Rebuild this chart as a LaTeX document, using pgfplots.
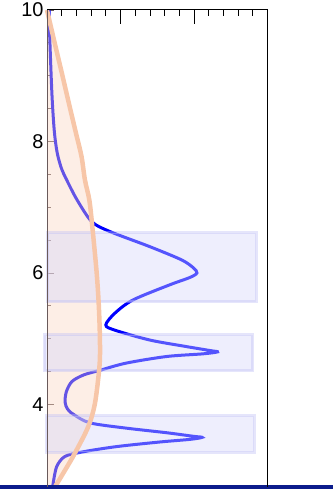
\documentclass[border=0pt]{standalone}
\usepackage{pgfplots}
\pgfplotsset{compat=1.18}
\usepackage{fontspec}
\setmainfont{Liberation Sans}
\definecolor{bluel}{RGB}{0,0,255}
\definecolor{orfill}{RGB}{250,212,192}
\definecolor{orline}{RGB}{247,198,168}
\definecolor{rectf}{RGB}{212,212,250}
\definecolor{rectb}{RGB}{190,190,245}
\definecolor{navyc}{RGB}{12,28,140}
\definecolor{axgray}{RGB}{105,90,90}
\begin{document}
\begin{tikzpicture}
\begin{axis}[name=ax,
  scale only axis, width=220.5bp, height=477bp,
  xmin=0, xmax=3, ymin=2.745, ymax=10,
  clip=false,
  axis line style={draw=none},
  xtick={0,1,2,3}, minor x tick num=4, xticklabels={}, xtick pos=right,
  ytick={4,6,8,10}, minor y tick num=3, ytick pos=left,
  tick align=inside,
  xtick style={black, line width=0.8bp, /pgfplots/major tick length=14bp, /pgfplots/minor tick length=6bp},
  ytick style={axgray, line width=0.8bp, /pgfplots/major tick length=6.5bp, /pgfplots/minor tick length=3.5bp},
  yticklabel style={font=\fontsize{20}{20}\selectfont},
  /pgf/number format/assume math mode=true,
]
% blue density curve
\addplot[smooth, color=bluel, line width=3bp] coordinates {
(0.027,10) (0.04,9.5) (0.068,8.7) (0.1,8.15) (0.14,7.82) (0.2,7.58) (0.27,7.41) (0.41,7.11)
(0.61,6.78) (0.857,6.63) (1.40,6.40) (1.83,6.20) (1.99,6.08) (2.04,6.0) (1.94,5.93) (1.67,5.82)
(1.17,5.59) (0.925,5.39) (0.80,5.21) (0.925,5.13) (1.40,4.98) (1.90,4.88) (2.22,4.82) (2.32,4.80)
(2.12,4.77) (1.63,4.73) (1.08,4.63) (0.72,4.52) (0.50,4.45) (0.34,4.35) (0.265,4.2) (0.245,4.04)
(0.28,3.93) (0.36,3.85) (0.585,3.72) (1.08,3.64) (1.63,3.57) (2.0,3.515) (2.11,3.50) (1.95,3.47) (1.54,3.43)
(0.95,3.36) (0.49,3.28) (0.245,3.21) (0.13,3.05) (0.077,2.75)};
% orange fill
\addplot[smooth, draw=none, fill=orfill, fill opacity=0.4] coordinates {
(0,10) (0.1,9.52) (0.2,9.05) (0.3,8.57) (0.4,8.1) (0.47,7.77) (0.517,7.41) (0.576,7.11)
(0.617,6.7) (0.676,6.0) (0.705,5.5) (0.72,5.0) (0.715,4.6) (0.653,4.02) (0.56,3.66)
(0.38,3.26) (0.245,3.0) (0.11,2.75)} -- (axis cs:0,2.745) -- cycle;
% rectangles
\addplot[fill=rectf, draw=rectb, fill opacity=0.4, draw opacity=0.4, line width=3bp]
  coordinates {(0.01,6.61) (2.846,6.61) (2.846,5.562) (0.01,5.562)} -- cycle;
\addplot[fill=rectf, draw=rectb, fill opacity=0.4, draw opacity=0.4, line width=3bp]
  coordinates {(-0.038,5.06) (2.80,5.06) (2.80,4.513) (-0.038,4.513)} -- cycle;
\addplot[fill=rectf, draw=rectb, fill opacity=0.4, draw opacity=0.4, line width=3bp]
  coordinates {(-0.007,3.828) (2.82,3.828) (2.82,3.27) (-0.007,3.27)} -- cycle;
% orange line
\addplot[smooth, color=orline, line width=4.5bp] coordinates {
(0,10) (0.1,9.52) (0.2,9.05) (0.3,8.57) (0.4,8.1) (0.47,7.77) (0.517,7.41) (0.576,7.11)
(0.617,6.7) (0.676,6.0) (0.705,5.5) (0.72,5.0) (0.715,4.6) (0.653,4.02) (0.56,3.66)
(0.38,3.26) (0.245,3.0) (0.11,2.75)};
% bottom navy line
\addplot[color=navyc, line width=4.5bp] coordinates {(-0.64,2.745) (3.89,2.745)};
% frame
\draw[axgray, line width=1bp] (rel axis cs:0,0) -- (rel axis cs:0,1);
\draw[black, line width=1bp] (rel axis cs:0,1) -- (rel axis cs:1,1);
\draw[black, line width=1.3bp] (rel axis cs:1,1) -- (rel axis cs:1,0);
\end{axis}
\pgfresetboundingbox
\path (ax.south west) ++(-47bp,-3bp) rectangle ++(333bp,490bp);
\end{tikzpicture}
\end{document}
